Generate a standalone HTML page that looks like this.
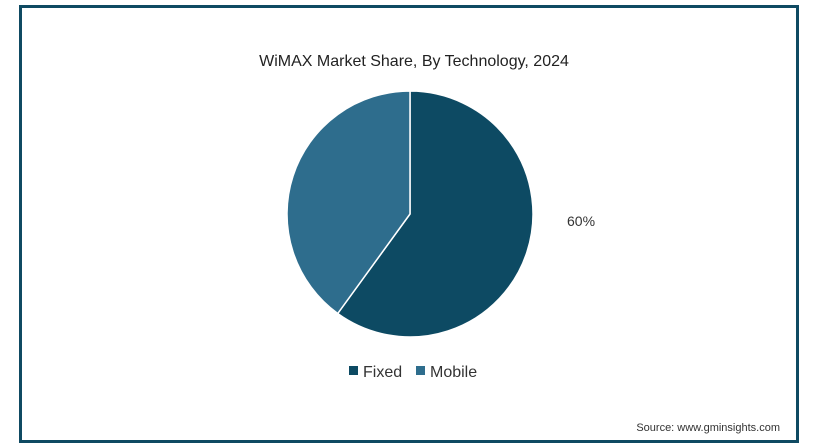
<!DOCTYPE html>
<html><head><meta charset="utf-8"><style>
body{margin:0;width:832px;height:448px;background:#fff;overflow:hidden;font-family:"Liberation Sans",sans-serif}
#frame{position:absolute;left:19px;top:5px;width:774px;height:432px;border:3px solid #0f4a62;background:#fff}
</style></head><body>
<div id="frame"></div>
<svg width="832" height="448" style="position:absolute;left:0;top:0">
<text x="414" y="66" text-anchor="middle" font-size="16" fill="#222">WiMAX Market Share, By Technology, 2024</text>
<g id="slices"></g>
<text x="567" y="226" font-size="14" fill="#333" id="lbl">60%</text>
<rect x="349" y="366" width="9" height="9" fill="#0d4a63"/>
<text x="363" y="377" font-size="16" fill="#333">Fixed</text>
<rect x="416" y="366" width="9" height="9" fill="#2e6d8d"/>
<text x="430" y="377" font-size="16" fill="#333">Mobile</text>
<text x="780" y="431" text-anchor="end" font-size="11" fill="#333">Source: www.gminsights.com</text>
</svg>
<script>
const categories=["Fixed","Mobile"];
const values=[60,40];
const colors=["#0d4a63","#2e6d8d"];
const cx=410,cy=214,r=123;
const g=document.getElementById('slices');
const total=values.reduce((a,b)=>a+b,0);
let a0=0;
values.forEach((v,i)=>{
  const a1=a0+v/total*2*Math.PI;
  const x0=cx+r*Math.sin(a0),y0=cy-r*Math.cos(a0),x1=cx+r*Math.sin(a1),y1=cy-r*Math.cos(a1);
  const p=document.createElementNS('http://www.w3.org/2000/svg','path');
  p.setAttribute('d',`M${cx},${cy}L${x0},${y0}A${r},${r} 0 ${a1-a0>Math.PI?1:0} 1 ${x1},${y1}Z`);
  p.setAttribute('fill',colors[i]);p.setAttribute('stroke','#fff');p.setAttribute('stroke-width','1.5');
  
  
  g.appendChild(p);
  a0=a1;
});
document.getElementById('lbl').textContent=Math.round(values[0]/total*100)+'%';
</script>
</body></html>
